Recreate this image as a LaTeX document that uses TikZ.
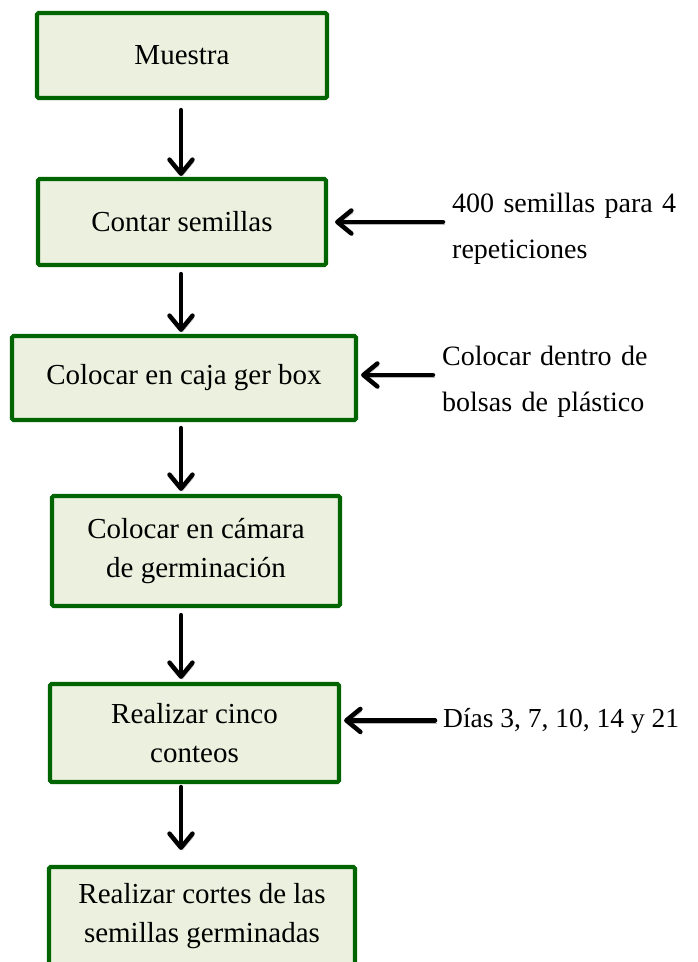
\documentclass[tikz,border=0pt]{standalone}
\usepackage{fontspec}
\setmainfont{Liberation Serif}
\usetikzlibrary{arrows.meta}
\definecolor{boxgreen}{RGB}{0,100,0}
\definecolor{boxfill}{RGB}{235,241,222}
\begin{document}
\begin{tikzpicture}[x=1pt,y=-1pt,
  stepbox/.style={draw=boxgreen, fill=boxfill, line width=4.2pt, rounded corners=1.5pt,
    inner sep=0pt, align=center, font=\fontsize{29}{39}\selectfont},
  arr/.style={line width=4.5pt, line cap=round,
    -{Straight Barb[length=14pt,width=23pt,line width=4.5pt,round]},
    preaction={draw=black!28, transform canvas={xshift=1.5pt,yshift=-2.5pt}}},
  side/.style={inner sep=0pt, anchor=base west, text width=250pt, align=left,
    font=\fontsize{28}{46}\selectfont},
  sideone/.style={inner sep=0pt, anchor=base west, font=\fontsize{27.5}{46}\selectfont},
]
\useasboundingbox (0,0) rectangle (698,962);
\clip (0,0) rectangle (698,962);
\fill[white] (0,0) rectangle (698,962);

\coordinate (ax) at (181,0);

\node[stepbox, minimum width=290pt, minimum height=85pt] (b1) at (182,55.5) {Muestra};
\node[stepbox, minimum width=288pt, minimum height=86pt] (b2) at (182,222) {Contar semillas};
\node[stepbox, minimum width=344pt, minimum height=84pt] (b3) at (184,378) {Colocar en caja ger box};
\node[stepbox, minimum width=288pt, minimum height=110pt] (b4) at (196,551) {Colocar en cámara\\de germinación};
\node[stepbox, minimum width=289pt, minimum height=98pt] (b5) at (194.5,733) {Realizar cinco\\conteos};
\node[stepbox, minimum width=306pt, minimum height=98pt] (b6) at (202,916) {Realizar cortes de las\\semillas germinadas};

\node[side] (t1) at (452,212) {400 semillas para 4\\repeticiones};
\node[side] (t2) at (442,365) {Colocar dentro de\\bolsas de plástico};
\node[sideone] (t3) at (443,727) {Días 3, 7, 10, 14 y 21};

\coordinate (b3e) at ([yshift=3pt]b3.east);

\draw[arr, shorten <=10pt, shorten >=1pt] (b1.south -| ax) -- (b2.north -| ax);
\draw[arr, shorten <=7pt, shorten >=2pt] (b2.south -| ax) -- (b3.north -| ax);
\draw[arr, shorten <=6pt, shorten >=3pt] (b3.south -| ax) -- (b4.north -| ax);
\draw[arr, shorten <=7pt, shorten >=3pt] (b4.south -| ax) -- (b5.north -| ax);
\draw[arr, shorten <=3pt, shorten >=15pt] (b5.south -| ax) -- (b6.north -| ax);

\draw[arr, shorten <=9pt, shorten >=7pt] (t1.west |- b2.east) -- (b2.east);
\draw[arr, shorten <=9pt, shorten >=3pt] (t2.west |- b3e) -- (b3e);
\draw[arr, shorten <=8pt, shorten >=3pt] (t3.west) -- (b5.east |- t3.west);
\end{tikzpicture}
\end{document}
